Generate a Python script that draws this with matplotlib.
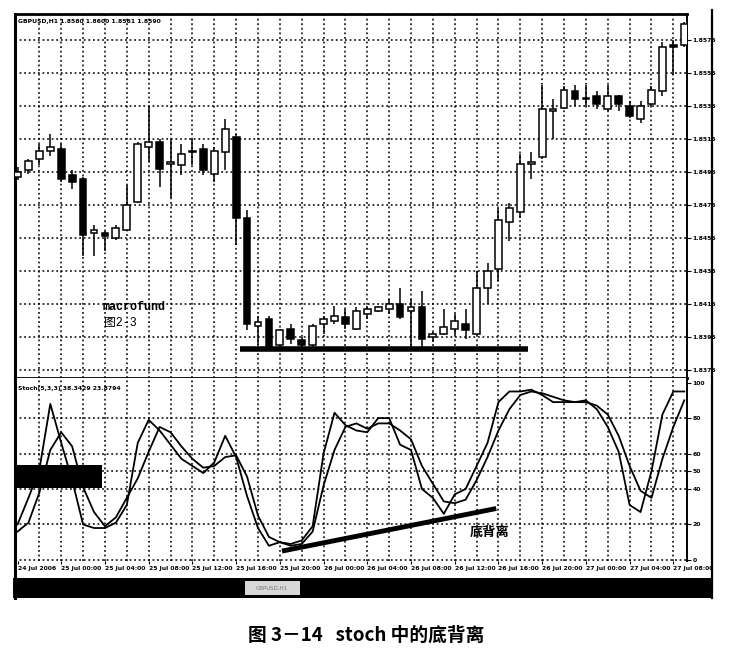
import numpy as np
import matplotlib.pyplot as plt
from matplotlib.patches import Rectangle
from matplotlib.lines import Line2D

plt.rcParams['font.family'] = ['DejaVu Sans', 'Noto Sans CJK SC']

# GBPUSD H1, 24 Jul 20:00 .. 27 Jul 09:00
opens = [1.8492, 1.8496, 1.8503, 1.8508, 1.8509, 1.8493, 1.8491, 1.8458, 1.8458, 1.8455,
         1.8460, 1.8477, 1.8510, 1.8513, 1.8500, 1.8499, 1.8507, 1.8509, 1.8494, 1.8507,
         1.8516, 1.8467, 1.8402, 1.8406, 1.8390, 1.8400, 1.8393, 1.8390, 1.8403, 1.8405,
         1.8407, 1.8400, 1.8409, 1.8411, 1.8412, 1.8415, 1.8411, 1.8413, 1.8395, 1.8397,
         1.8400, 1.8403, 1.8397, 1.8425, 1.8436, 1.8465, 1.8471, 1.8500, 1.8504, 1.8532,
         1.8534, 1.8544, 1.8539, 1.8541, 1.8533, 1.8541, 1.8535, 1.8527, 1.8536, 1.8544,
         1.8572, 1.8572]
highs = [1.8498, 1.8503, 1.8512, 1.8518, 1.8512, 1.8496, 1.8492, 1.8463, 1.8459, 1.8463,
         1.8487, 1.8513, 1.8535, 1.8515, 1.8515, 1.8512, 1.8515, 1.8512, 1.8510, 1.8527,
         1.8518, 1.8472, 1.8408, 1.8408, 1.8400, 1.8403, 1.8395, 1.8403, 1.8408, 1.8414,
         1.8412, 1.8413, 1.8414, 1.8414, 1.8418, 1.8425, 1.8418, 1.8423, 1.8398, 1.8412,
         1.8409, 1.8412, 1.8435, 1.8440, 1.8473, 1.8476, 1.8506, 1.8507, 1.8548, 1.8539,
         1.8547, 1.8548, 1.8548, 1.8544, 1.8548, 1.8542, 1.8538, 1.8538, 1.8547, 1.8574,
         1.8575, 1.8586]
lows = [1.8490, 1.8494, 1.8499, 1.8505, 1.8489, 1.8485, 1.8444, 1.8444, 1.8447, 1.8454,
        1.8459, 1.8476, 1.8501, 1.8486, 1.8479, 1.8493, 1.8499, 1.8493, 1.8489, 1.8496,
        1.8451, 1.8399, 1.8390, 1.8387, 1.8388, 1.8391, 1.8389, 1.8388, 1.8397, 1.8403,
        1.8400, 1.8399, 1.8406, 1.8410, 1.8409, 1.8406, 1.8388, 1.8388, 1.8392, 1.8396,
        1.8396, 1.8394, 1.8396, 1.8415, 1.8429, 1.8453, 1.8467, 1.8491, 1.8503, 1.8515,
        1.8533, 1.8535, 1.8535, 1.8533, 1.8532, 1.8532, 1.8528, 1.8525, 1.8535, 1.8541,
        1.8554, 1.8571]
closes = [1.8495, 1.8502, 1.8508, 1.8510, 1.8491, 1.8489, 1.8457, 1.8460, 1.8456, 1.8461,
          1.8475, 1.8512, 1.8513, 1.8497, 1.8501, 1.8506, 1.8508, 1.8496, 1.8508, 1.8521,
          1.8467, 1.8403, 1.8404, 1.8388, 1.8399, 1.8394, 1.8390, 1.8402, 1.8406, 1.8408,
          1.8403, 1.8411, 1.8412, 1.8413, 1.8415, 1.8407, 1.8413, 1.8394, 1.8397, 1.8401,
          1.8405, 1.8399, 1.8425, 1.8435, 1.8466, 1.8473, 1.8500, 1.8501, 1.8533, 1.8533,
          1.8545, 1.8539, 1.8540, 1.8536, 1.8541, 1.8536, 1.8529, 1.8535, 1.8545, 1.8571,
          1.8571, 1.8585]

# stochastic %K / %D
stoch_k = [20, 35, 51, 88, 66, 45, 20, 18, 18, 21, 31, 66, 79, 73, 65, 57, 53, 49, 55, 70,
           58, 36, 18, 8, 10, 9, 11, 19, 60, 83, 76, 73, 72, 80, 80, 65, 62, 40, 35, 26,
           37, 40, 53, 66, 89, 95, 95, 96, 93, 89, 89, 89, 90, 85, 75, 61, 31, 27, 50, 82,
           95, 95]
stoch_d = [16, 21, 38, 62, 72, 64, 41, 27, 19, 24, 35, 46, 61, 75, 72, 64, 57, 52, 53, 58,
           59, 47, 25, 13, 10, 8, 9, 16, 42, 62, 75, 77, 74, 77, 77, 73, 68, 53, 43, 33,
           32, 34, 45, 58, 73, 85, 93, 95, 94, 92, 90, 89, 89, 87, 82, 70, 53, 39, 35, 57,
           75, 90]

price_ticks = [1.8375, 1.8395, 1.8415, 1.8435, 1.8455, 1.8475, 1.8495, 1.8515, 1.8535, 1.8555, 1.8575]
stoch_ticks = [0, 20, 40, 50, 60, 80, 100]
stoch_levels = [0, 20, 40, 50, 60, 80]
time_labels = ['24 Jul 2006', '25 Jul 00:00', '25 Jul 04:00', '25 Jul 08:00', '25 Jul 12:00',
               '25 Jul 16:00', '25 Jul 20:00', '26 Jul 00:00', '26 Jul 04:00', '26 Jul 08:00',
               '26 Jul 12:00', '26 Jul 16:00', '26 Jul 20:00', '27 Jul 00:00', '27 Jul 04:00',
               '27 Jul 08:00']

# hand-drawn marks from the book
support_x = [20.4, 46.7]
support_y = [1.8388, 1.8388]
diverge_x = [24.2, 43.8]
diverge_y = [5, 29]

W, H = 733, 660
def px_axes(l, t, r, b):
    return [l / W, 1 - b / H, (r - l) / W, (b - t) / H]

fig = plt.figure(figsize=(7.33, 6.6), dpi=100)
ax1 = fig.add_axes(px_axes(15, 14, 687, 378))
ax2 = fig.add_axes(px_axes(15, 378, 687, 561))

dots = (0, (1.2, 1.8))
small = dict(family='Liberation Sans Narrow', weight='bold', size=4.4)

o = np.array(opens); h = np.array(highs); l = np.array(lows); c = np.array(closes)
idx = np.arange(len(o))
up = c >= o
bottoms = np.minimum(o, c)
heights = np.maximum(np.abs(c - o), 0.00004)

ax1.vlines(idx, l, h, color='black', lw=1.1, zorder=3)
ax1.bar(idx[up], heights[up], bottom=bottoms[up], width=0.62, facecolor='white',
        edgecolor='black', lw=1.1, zorder=4)
ax1.bar(idx[~up], heights[~up], bottom=bottoms[~up], width=0.62, facecolor='black',
        edgecolor='black', lw=1.1, zorder=4)
ax1.plot(support_x, support_y, color='black', lw=4, solid_capstyle='butt', zorder=5)

xlim = (-0.23, 61.25)
ax1.set_xlim(xlim)
ax1.set_ylim(1.83702, 1.85908)
ax1.set_xticks(np.arange(2, 61, 2))
ax1.tick_params(axis='x', length=0, labelbottom=False)
ax1.yaxis.tick_right()
ax1.set_yticks(price_ticks)
ax1.set_yticklabels([f'{p:.4f}' for p in price_ticks], **small)
ax1.tick_params(axis='y', length=3, width=0.8, pad=1)
ax1.grid(True, color='black', linestyle=dots, lw=1.1, zorder=1)
ax1.set_axisbelow(True)
for side, w in [('left', 2.2), ('top', 2.0), ('right', 1.4), ('bottom', 2.0)]:
    ax1.spines[side].set_linewidth(w)
ax1.text(0.005, 0.985, 'GBPUSD,H1 1.8580 1.8600 1.8561 1.8590', transform=ax1.transAxes,
         ha='left', va='top', **small)
ax1.text(0.131, 0.195, 'macrofund', transform=ax1.transAxes, ha='left', va='center',
         family=['Liberation Mono', 'Noto Sans CJK SC'], fontsize=8.5, fontweight='bold')
ax1.text(0.133, 0.15, '图2-3', transform=ax1.transAxes, ha='left', va='center',
         family=['Liberation Mono', 'Noto Sans CJK SC'], fontsize=8.5)

# stochastic panel
ax2.plot(idx, stoch_k, color='black', lw=1.3, zorder=3)
ax2.plot(idx, stoch_d, color='black', lw=1.3, zorder=3)
ax2.plot(diverge_x, diverge_y, color='black', lw=3.5, solid_capstyle='butt', zorder=4)
for lvl in stoch_levels:
    ax2.axhline(lvl, color='black', linestyle=dots, lw=1.1, zorder=1)
for gx in np.arange(2, 61, 2):
    ax2.axvline(gx, color='black', linestyle=dots, lw=1.1, zorder=1)
ax2.set_xlim(xlim)
ax2.set_ylim(-0.6, 102.6)
ax2.yaxis.tick_right()
ax2.set_yticks(stoch_ticks)
ax2.set_yticklabels([str(v) for v in stoch_ticks], **small)
ax2.tick_params(axis='y', length=3, width=0.8, pad=1)
ax2.set_xticks(np.arange(0, 61, 4))
ax2.set_xticklabels(time_labels, ha='left', **small)
ax2.tick_params(axis='x', length=2, width=0.8, pad=1.5)
ax2.spines['top'].set_visible(False)
ax2.spines['bottom'].set_visible(False)
ax2.spines['left'].set_linewidth(2.2)
ax2.spines['right'].set_linewidth(1.4)
ax2.text(0.005, 0.955, 'Stoch(5,3,3) 38.3429 23.8794', transform=ax2.transAxes,
         ha='left', va='top', **small)
ax2.text(43.2, 15.7, '底背离', ha='center', va='center', fontsize=9.5, fontweight='bold',
         family=['Noto Sans CJK SC', 'DejaVu Sans'])

# black block covering the old label, window frame and tab bar
fig.add_artist(Rectangle((15 / W, 1 - 488 / H), 87 / W, 23 / H, transform=fig.transFigure,
                         facecolor='black', edgecolor='none', zorder=6))
fig.add_artist(Rectangle((13 / W, 1 - 598 / H), 699 / W, 20 / H, transform=fig.transFigure,
                         facecolor='black', edgecolor='none'))
fig.add_artist(Rectangle((245 / W, 1 - 595 / H), 55 / W, 14 / H, transform=fig.transFigure,
                         facecolor='#d8d8d8', edgecolor='none'))
fig.text(272 / W, 1 - 588 / H, 'GBPUSD,H1', ha='center', va='center', color='#777777',
         fontsize=4)
fig.add_artist(Line2D([712 / W, 712 / W], [1 - 10 / H, 1 - 598 / H], color='black', lw=1.6))
fig.add_artist(Line2D([15 / W, 15 / W], [1 - 561 / H, 1 - 598 / H], color='black', lw=2.2))

fig.text(0.5, 1 - 635 / H, '图 3－14   stoch 中的底背离', ha='center', va='center',
         fontsize=13.5, fontweight='bold', family=['Noto Sans CJK SC', 'DejaVu Sans'])

fig.savefig('out.png', dpi=100)
